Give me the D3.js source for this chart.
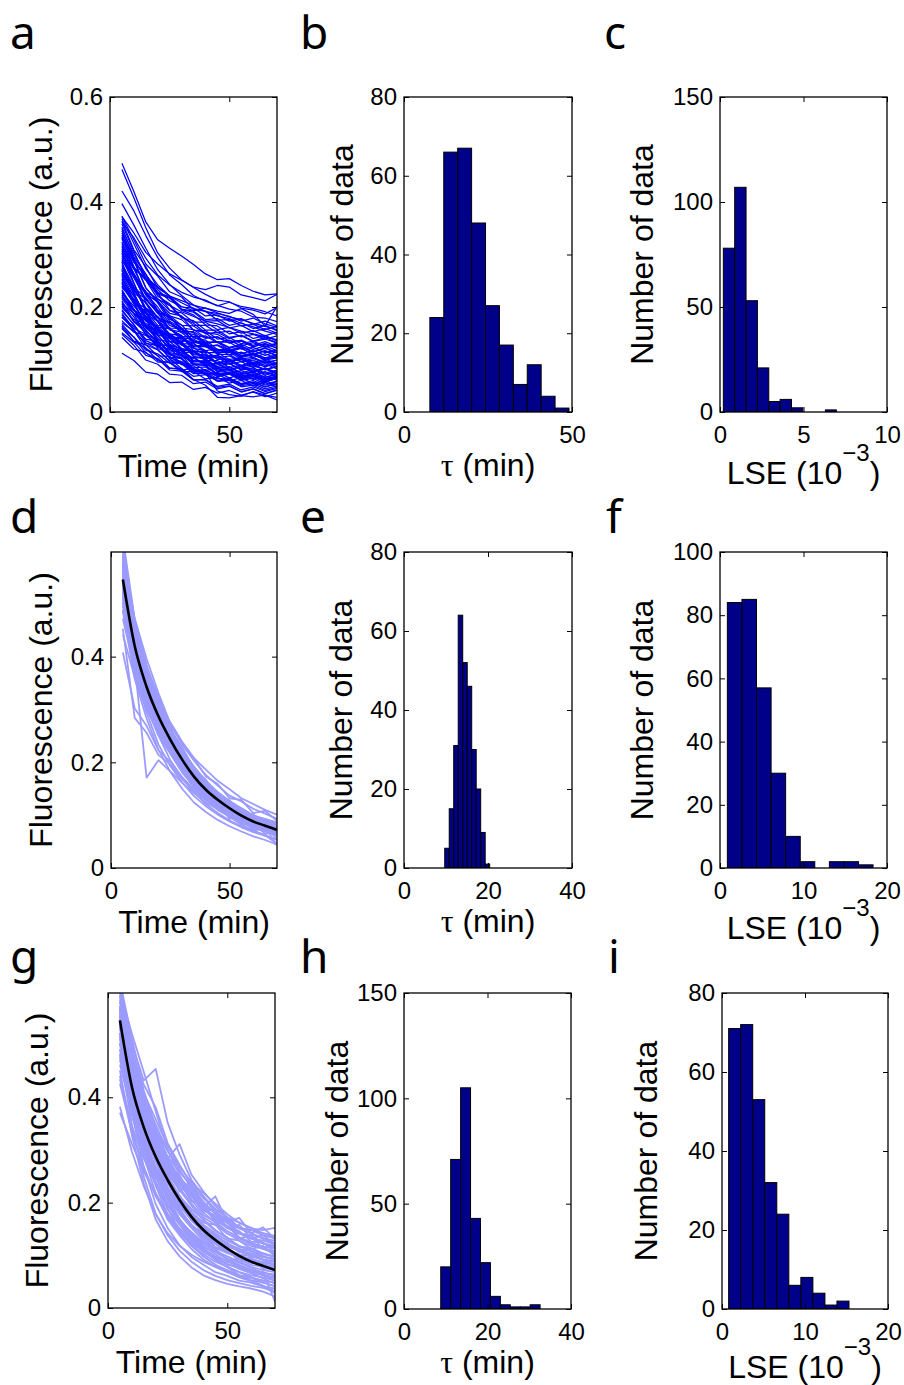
<!DOCTYPE html>
<html>
<head>
<meta charset="utf-8">
<script src="https://cdn.jsdelivr.net/npm/d3@7"></script>
<style>
  body { margin: 0; background: #fff; }
  svg { display: block; }
  text { font-family: "Liberation Sans", Arial, sans-serif; fill: #000; }
  .letter { font-family: "Noto Sans", sans-serif; font-size: 46px; }
  .tick text { font-size: 24px; font-family: "Liberation Sans", Arial, sans-serif; }
  .tick line { stroke: #000; stroke-width: 1; }
  .lab { font-size: 32px; }
</style>
</head>
<body>
<svg id="fig" width="904" height="1385"></svg>
<script>
/* ── Data ───────────────────────────────────────────────────────── */

// sampling times of every trace (min)
const timeMin = [5, 10, 15, 20, 25, 30, 35, 40, 45, 50, 55, 60, 65, 70];

// panel a: raw traces, fluorescence in units of 0.01 a.u.
const tracesA = [
  [35.2, 29.6, 26.3, 22.1, 20.6, 18.0, 16.9, 15.1, 14.8, 13.5, 13.6, 12.5, 12.9, 12.2],
  [33.7, 28.8, 23.6, 21.2, 17.7, 16.6, 14.1, 13.7, 11.9, 11.9, 10.7, 10.9, 9.9, 10.3],
  [32.4, 27.6, 25.1, 21.5, 20.3, 17.9, 17.4, 15.6, 15.6, 14.2, 14.6, 13.4, 13.9, 13.1],
  [31.1, 26.3, 21.4, 18.9, 15.7, 14.6, 12.1, 11.7, 10.0, 10.1, 8.8, 9.1, 8.1, 8.6],
  [30.6, 25.7, 23.0, 19.4, 18.1, 15.7, 15.1, 13.3, 13.3, 11.8, 12.2, 11.0, 11.6, 10.7],
  [29.3, 24.5, 19.7, 17.2, 14.1, 13.0, 10.6, 10.2, 8.5, 8.6, 7.3, 7.6, 6.6, 7.1],
  [28.8, 25.8, 22.4, 21.1, 18.8, 18.3, 16.5, 16.5, 15.1, 15.4, 14.3, 14.8, 13.9, 14.5],
  [27.9, 23.2, 20.7, 17.2, 16.0, 13.7, 13.1, 11.3, 11.3, 10.0, 10.4, 9.2, 9.8, 8.9],
  [27.2, 22.6, 18.0, 15.6, 12.6, 11.6, 9.2, 8.8, 7.1, 7.3, 6.0, 6.4, 5.3, 5.9],
  [26.5, 22.7, 20.9, 17.9, 17.1, 15.1, 14.8, 13.2, 13.4, 12.2, 12.6, 11.5, 12.2, 11.3],
  [25.8, 21.3, 18.9, 15.4, 14.4, 12.1, 11.5, 9.8, 9.8, 8.5, 8.9, 7.7, 8.3, 7.4],
  [25.1, 22.1, 18.7, 17.3, 14.9, 14.5, 12.6, 12.6, 11.2, 11.6, 10.4, 10.9, 10.0, 10.6],
  [24.4, 20.6, 16.5, 14.6, 11.9, 11.2, 9.0, 8.9, 7.3, 7.5, 6.3, 6.8, 5.8, 6.4],
  [23.7, 21.5, 18.8, 18.0, 16.0, 15.9, 14.3, 14.5, 13.2, 13.7, 12.6, 13.2, 12.3, 13.0],
  [23.0, 19.3, 17.6, 14.7, 14.0, 12.0, 11.7, 10.2, 10.4, 9.1, 9.6, 8.5, 9.2, 8.2],
  [22.3, 18.7, 14.7, 12.9, 10.3, 9.6, 7.5, 7.4, 5.9, 6.1, 5.0, 5.4, 4.4, 5.0],
  [21.6, 18.7, 17.5, 15.1, 14.8, 13.0, 13.0, 11.7, 12.0, 10.9, 11.4, 10.4, 11.1, 10.2],
  [20.9, 18.1, 14.8, 13.6, 11.3, 10.9, 9.1, 9.2, 7.8, 8.2, 7.1, 7.6, 6.6, 7.3],
  [20.2, 17.3, 16.2, 13.8, 13.4, 11.7, 11.7, 10.3, 10.7, 9.5, 10.1, 9.1, 9.8, 8.9],
  [19.5, 16.6, 13.2, 11.9, 9.6, 9.2, 7.3, 7.4, 6.0, 6.3, 5.2, 5.7, 4.8, 5.4],
  [18.8, 15.9, 14.8, 12.4, 12.0, 10.3, 10.3, 8.9, 9.3, 8.1, 8.7, 7.7, 8.4, 7.5],
  [18.1, 15.7, 12.8, 11.8, 9.8, 9.6, 7.9, 8.0, 6.7, 7.2, 6.1, 6.7, 5.7, 6.4],
  [17.4, 15.2, 14.6, 12.7, 12.7, 11.2, 11.5, 10.3, 10.8, 9.7, 10.3, 9.4, 10.1, 9.2],
  [16.7, 14.2, 11.2, 10.2, 8.0, 7.8, 6.1, 6.2, 4.9, 5.3, 4.2, 4.8, 3.9, 4.5],
  [15.9, 13.5, 12.8, 10.7, 10.6, 9.0, 9.2, 7.9, 8.4, 7.3, 7.9, 6.9, 7.7, 6.8],
  [15.1, 13.3, 10.8, 10.1, 8.3, 8.3, 6.8, 7.1, 5.9, 6.4, 5.4, 6.0, 5.1, 5.8],
  [14.2, 12.0, 11.4, 9.5, 9.5, 8.0, 8.3, 7.1, 7.6, 6.5, 7.1, 6.2, 6.9, 6.0],
  [34.5, 29.0, 23.7, 20.8, 17.3, 16.0, 13.4, 12.8, 11.0, 11.0, 9.6, 9.9, 8.8, 9.4],
  [32.9, 28.5, 26.2, 22.8, 21.8, 19.5, 19.0, 17.3, 17.4, 16.0, 16.5, 15.3, 15.9, 15.0],
  [31.7, 26.2, 20.9, 18.0, 14.5, 13.2, 10.6, 10.0, 8.2, 8.2, 6.8, 7.1, 6.0, 6.6],
  [30.0, 26.4, 22.6, 20.9, 18.3, 17.6, 15.6, 15.5, 13.9, 14.2, 13.0, 13.5, 12.5, 13.1],
  [28.3, 23.9, 19.5, 17.3, 14.3, 13.4, 11.1, 10.8, 9.1, 9.3, 8.0, 8.4, 7.4, 8.0],
  [26.9, 23.5, 19.8, 18.2, 15.7, 15.2, 13.2, 13.1, 11.6, 11.9, 10.8, 11.2, 10.3, 10.9],
  [25.4, 21.0, 16.4, 14.1, 11.1, 10.2, 7.8, 7.5, 5.9, 6.0, 4.8, 5.1, 4.1, 4.7],
  [24.0, 20.7, 19.2, 16.5, 16.0, 14.1, 13.9, 12.5, 12.7, 11.5, 12.1, 11.0, 11.7, 10.8],
  [22.7, 19.6, 16.0, 14.6, 12.2, 11.7, 9.7, 9.7, 8.3, 8.6, 7.5, 8.0, 7.0, 7.6],
  [21.2, 17.2, 15.2, 12.1, 11.3, 9.2, 8.8, 7.2, 7.3, 6.0, 6.5, 5.4, 6.0, 5.1],
  [19.9, 17.6, 16.9, 14.9, 14.9, 13.4, 13.6, 12.4, 12.8, 11.8, 12.4, 11.4, 12.1, 11.2],
  [18.5, 15.5, 12.1, 10.7, 8.4, 8.0, 6.1, 6.1, 4.7, 5.0, 3.9, 4.4, 3.5, 4.1],
  [17.0, 15.4, 13.1, 12.6, 10.9, 10.9, 9.5, 9.8, 8.7, 9.2, 8.2, 8.8, 8.0, 8.7],
  [36.4, 30.9, 27.7, 23.6, 22.1, 19.4, 18.5, 16.6, 16.4, 14.9, 15.3, 14.0, 14.6, 13.5],
  [33.2, 27.7, 22.3, 19.3, 15.8, 14.4, 11.7, 11.2, 9.3, 9.3, 8.0, 8.2, 7.2, 7.7],
  [29.7, 25.6, 21.4, 19.4, 16.5, 15.7, 13.5, 13.3, 11.6, 11.8, 10.6, 11.0, 10.0, 10.6],
  [27.5, 23.7, 21.8, 18.8, 18.1, 16.0, 15.7, 14.2, 14.3, 13.1, 13.5, 12.4, 13.1, 12.1],
  [26.1, 22.0, 17.7, 15.7, 12.8, 12.0, 9.8, 9.6, 8.0, 8.1, 6.9, 7.3, 6.3, 6.9],
  [24.8, 20.8, 18.8, 15.7, 14.8, 12.7, 12.3, 10.7, 10.8, 9.6, 10.0, 8.9, 9.5, 8.6],
  [23.3, 19.5, 15.4, 13.6, 10.9, 10.1, 8.0, 7.8, 6.3, 6.5, 5.3, 5.7, 4.8, 5.4],
  [22.0, 19.5, 16.5, 15.5, 13.4, 13.2, 11.5, 11.6, 10.3, 10.7, 9.6, 10.2, 9.3, 9.9],
  [20.5, 17.2, 15.7, 13.0, 12.5, 10.6, 10.4, 9.0, 9.2, 8.0, 8.6, 7.5, 8.2, 7.2],
  [19.2, 16.7, 13.6, 12.6, 10.4, 10.2, 8.4, 8.6, 7.2, 7.6, 6.6, 7.1, 6.2, 6.8],
  [16.4, 13.4, 12.2, 9.8, 9.4, 7.7, 7.7, 6.3, 6.6, 5.5, 6.0, 5.0, 5.7, 4.8],
  [14.8, 12.7, 9.9, 9.1, 7.2, 7.0, 5.4, 5.7, 4.4, 4.9, 3.8, 4.4, 3.5, 4.2],
  [11.2, 9.8, 7.6, 7.2, 5.6, 5.7, 4.3, 4.7, 3.6, 4.1, 3.2, 3.8, 2.9, 3.6],
  [30.3, 24.6, 19.0, 15.9, 12.3, 10.9, 8.1, 7.5, 4.0, 3.3, 3.0, 3.9, 3.2, 2.8],
  [28.6, 22.4, 17.8, 13.1, 10.2, 8.3, 6.2, 5.1, 2.8, 2.7, 3.1, 2.9, 3.2, 2.3],
  [35.8, 30.6, 25.5, 22.7, 19.4, 18.2, 15.6, 15.1, 13.3, 13.3, 12.0, 12.3, 11.3, 11.8],
  [31.4, 27.5, 25.5, 22.5, 21.7, 19.6, 19.2, 17.6, 17.8, 16.5, 17.0, 15.9, 16.5, 15.5],
  [29.0, 26.1, 22.8, 21.6, 19.3, 18.9, 17.1, 17.1, 15.7, 16.1, 15.0, 15.5, 14.5, 15.2],
  [26.3, 23.0, 21.6, 18.9, 18.4, 16.5, 16.4, 14.9, 15.2, 14.0, 14.6, 13.5, 14.2, 13.2],
  [23.9, 21.0, 19.8, 17.4, 17.1, 15.3, 15.3, 14.0, 14.3, 13.2, 13.7, 12.7, 13.4, 12.5],
  [21.9, 19.3, 18.3, 16.1, 15.9, 14.3, 14.4, 13.0, 13.4, 12.3, 12.9, 11.9, 12.6, 11.7],
  [20.6, 18.8, 16.3, 15.8, 14.0, 14.0, 12.5, 12.8, 11.6, 12.1, 11.1, 11.7, 10.8, 11.5],
  [32.1, 27.3, 22.5, 20.0, 16.9, 15.8, 13.4, 13.0, 11.3, 11.4, 10.1, 10.4, 9.4, 9.9],
  [37.3, 32.8, 28.2, 25.9, 22.9, 21.9, 19.5, 19.2, 17.5, 17.6, 16.4, 16.7, 15.7, 16.3],
  [30.8, 27.2, 25.5, 22.7, 22.0, 20.0, 19.8, 18.3, 18.5, 17.3, 17.8, 16.7, 17.3, 16.4],
  [27.0, 22.6, 18.1, 15.9, 12.9, 12.0, 9.7, 9.4, 7.7, 7.9, 6.6, 7.0, 6.0, 6.6],
  [24.6, 21.3, 17.6, 16.0, 13.5, 12.9, 10.9, 10.9, 9.4, 9.7, 8.6, 9.0, 8.1, 8.7],
  [22.6, 20.2, 17.3, 16.3, 14.3, 14.1, 12.4, 12.5, 11.2, 11.7, 10.6, 11.2, 10.2, 10.9],
  [18.0, 16.3, 13.9, 13.4, 11.6, 11.7, 10.2, 10.5, 9.3, 9.9, 8.9, 9.5, 8.6, 9.3],
  [16.1, 14.3, 11.8, 11.1, 9.3, 9.3, 7.8, 8.1, 6.9, 7.4, 6.4, 7.0, 6.1, 6.8],
  [47.4, 42.0, 36.2, 32.8, 31.2, 29.7, 28.1, 26.3, 25.2, 25.4, 24.1, 23.0, 22.3, 22.5],
  [46.2, 40.8, 35.1, 30.3, 27.4, 25.2, 23.7, 22.4, 21.3, 21.0, 19.8, 19.4, 18.7, 19.9],
  [42.1, 38.3, 33.6, 29.4, 26.1, 24.3, 22.2, 21.1, 20.3, 19.6, 19.2, 18.1, 17.9, 17.2],
  [39.7, 35.6, 31.2, 27.1, 24.3, 22.2, 20.4, 19.1, 18.8, 18.2, 17.3, 17.9, 16.8, 16.1],
  [37.2, 34.1, 30.4, 28.2, 26.3, 25.1, 23.8, 23.3, 24.1, 23.8, 22.3, 21.8, 21.2, 22.4],
  [36.1, 33.2, 29.3, 26.1, 24.2, 22.8, 21.9, 21.3, 20.2, 20.9, 20.1, 19.7, 19.1, 18.3],
  [36.8, 32.1, 27.3, 24.2, 22.1, 20.8, 19.7, 19.2, 18.3, 17.8, 16.9, 16.2, 15.4, 14.8],
  [34.8, 30.2, 26.1, 23.3, 21.2, 20.1, 19.3, 19.8, 18.9, 18.1, 17.6, 16.9, 16.3, 15.7],
  [33.4, 28.9, 25.6, 23.8, 22.1, 21.2, 20.3, 19.8, 19.2, 18.8, 19.7, 18.6, 16.4, 20.1],
  [34.1, 29.3, 25.2, 22.2, 20.3, 19.1, 18.2, 17.3, 16.8, 16.1, 15.4, 14.9, 14.3, 13.8]
];

// panel d: simulated traces (0.01 a.u.)
const tracesD = [
  [56.9, 41.2, 35.6, 28.1, 25.4, 19.8, 18.2, 14.1, 13.6, 10.7, 10.5, 8.3, 8.6, 6.8],
  [52.3, 43.1, 33.2, 29.6, 23.5, 21.3, 16.6, 15.5, 12.2, 11.9, 9.3, 9.4, 7.5, 7.7],
  [58.4, 44.6, 36.9, 30.2, 26.1, 21.9, 18.5, 15.9, 13.8, 12.1, 10.6, 9.5, 8.6, 7.8],
  [50.1, 38.7, 31.2, 26.4, 22.3, 18.9, 15.8, 13.6, 11.8, 10.4, 9.1, 8.1, 7.3, 6.6],
  [61.2, 46.8, 38.1, 31.9, 26.2, 22.9, 18.6, 16.7, 13.8, 12.8, 10.5, 10.1, 8.4, 8.3],
  [55.8, 40.3, 34.9, 27.2, 25.1, 19.4, 17.9, 13.9, 13.4, 10.5, 10.4, 8.1, 8.5, 6.3],
  [53.1, 42.6, 33.1, 29.2, 23.2, 21.1, 16.4, 15.3, 12.0, 11.7, 9.1, 9.3, 7.2, 7.6],
  [48.6, 37.2, 30.4, 25.1, 21.6, 18.1, 15.4, 13.0, 11.5, 9.9, 8.8, 7.7, 7.1, 6.2],
  [57.6, 45.3, 36.4, 31.2, 25.9, 22.6, 18.9, 16.4, 14.2, 12.6, 11.0, 9.9, 9.0, 8.2],
  [54.0, 41.7, 33.8, 28.3, 24.0, 20.2, 17.1, 14.6, 12.7, 11.1, 9.7, 8.6, 7.8, 7.0],
  [59.5, 43.9, 37.3, 29.4, 26.8, 20.6, 19.1, 14.8, 14.3, 11.2, 11.1, 8.6, 9.1, 6.9],
  [51.4, 40.8, 32.2, 28.6, 22.8, 20.7, 16.0, 15.1, 11.8, 11.6, 8.9, 9.2, 7.0, 7.5],
  [56.2, 43.4, 35.2, 29.5, 24.9, 21.1, 17.8, 15.2, 13.3, 11.6, 10.2, 9.1, 8.2, 7.4],
  [62.5, 47.1, 38.4, 30.8, 26.4, 21.6, 18.4, 15.4, 13.4, 11.5, 10.1, 9.0, 8.1, 7.3],
  [40.8, 30.2, 26.9, 22.3, 20.1, 17.2, 14.9, 13.1, 11.4, 10.2, 8.9, 8.1, 7.3, 6.5],
  [45.3, 28.4, 25.6, 21.4, 19.6, 16.8, 14.6, 12.8, 11.3, 10.0, 8.8, 7.9, 7.1, 6.4],
  [52.2, 38.4, 17.1, 20.4, 18.3, 16.1, 14.2, 12.4, 11.1, 9.8, 8.7, 7.9, 7.1, 6.3],
  [54.3, 44.2, 36.5, 31.1, 27.6, 23.9, 20.8, 18.6, 16.5, 14.9, 13.2, 12.1, 11.0, 10.1],
  [56.7, 45.6, 38.2, 32.4, 27.1, 23.4, 20.3, 17.6, 15.6, 13.7, 12.6, 11.2, 10.3, 9.3],
  [57.4, 47.2, 39.6, 33.1, 27.4, 23.6, 20.7, 17.3, 15.9, 13.2, 12.9, 10.4, 10.8, 8.9],
  [50.3, 37.1, 29.4, 23.4, 19.3, 16.2, 13.6, 11.7, 10.1, 8.8, 7.7, 6.8, 6.1, 5.3],
  [48.9, 35.8, 28.3, 22.4, 18.2, 15.0, 12.4, 10.6, 9.1, 7.9, 6.9, 6.0, 5.3, 4.4],
  [53.4, 39.2, 30.8, 25.1, 20.4, 17.1, 14.3, 12.1, 10.4, 9.0, 7.9, 7.0, 6.2, 5.4],
  [58.1, 42.7, 33.4, 27.0, 22.3, 18.4, 15.2, 13.0, 11.2, 9.8, 8.6, 7.6, 6.9, 6.1],
  [55.2, 41.4, 34.1, 27.3, 24.2, 19.1, 17.3, 13.2, 12.4, 9.3, 9.8, 7.2, 7.9, 5.4],
  [51.8, 42.1, 34.7, 28.4, 25.2, 21.4, 19.0, 15.4, 14.1, 12.2, 11.3, 9.9, 9.3, 8.6],
  [56.3, 43.6, 34.2, 30.1, 24.1, 22.2, 17.2, 16.1, 12.3, 12.1, 9.2, 9.3, 7.1, 7.2],
  [53.7, 40.4, 32.1, 26.2, 21.8, 18.2, 15.6, 13.1, 11.0, 9.7, 8.2, 7.1, 6.2, 4.6],
  [47.2, 37.3, 30.2, 25.3, 21.9, 18.8, 16.1, 14.0, 12.2, 10.9, 9.8, 8.9, 8.1, 7.4],
  [60.3, 43.3, 35.4, 28.2, 24.4, 19.7, 17.4, 14.7, 12.8, 11.0, 9.9, 8.7, 8.1, 7.6],
  [55.4, 44.8, 36.8, 30.9, 25.3, 22.1, 18.1, 16.2, 13.2, 12.4, 10.1, 9.8, 8.2, 8.1],
  [52.8, 40.6, 31.4, 27.9, 22.1, 19.8, 15.7, 14.3, 11.2, 10.8, 8.3, 8.7, 6.4, 7.0],
  [50.9, 39.8, 33.6, 27.7, 24.6, 20.1, 18.6, 14.4, 13.9, 10.3, 10.8, 8.2, 8.9, 6.1],
  [57.1, 42.2, 35.8, 28.0, 25.3, 19.2, 17.7, 13.4, 12.9, 9.4, 9.9, 7.0, 7.7, 4.3],
  [44.2, 36.1, 30.1, 25.7, 22.9, 19.9, 17.1, 14.9, 13.1, 11.3, 10.2, 9.1, 8.3, 7.9],
  [54.8, 43.0, 34.5, 28.9, 24.2, 20.6, 17.4, 14.9, 13.0, 11.4, 10.0, 8.9, 8.1, 7.3],
  [59.0, 45.8, 37.0, 31.0, 26.0, 22.0, 18.7, 15.9, 13.9, 12.2, 10.7, 9.6, 8.7, 7.9],
  [49.6, 38.2, 31.5, 26.1, 22.5, 18.6, 16.2, 13.4, 12.1, 10.1, 9.4, 7.8, 7.6, 6.2],
  [53.6, 41.9, 34.9, 28.1, 24.8, 20.0, 17.9, 14.3, 13.5, 10.8, 10.4, 8.4, 8.4, 6.6],
  [56.0, 44.0, 35.5, 30.4, 24.6, 21.8, 17.0, 15.8, 12.5, 12.0, 9.5, 9.6, 7.4, 7.9],
  [52.0, 41.0, 33.5, 27.5, 23.7, 19.6, 16.8, 14.4, 12.6, 10.9, 9.6, 8.5, 7.7, 6.9],
  [58.8, 44.4, 36.2, 29.8, 25.7, 21.2, 18.0, 15.1, 13.2, 11.4, 10.3, 9.0, 8.3, 7.5],
  [51.0, 39.4, 32.6, 27.0, 23.0, 19.3, 16.6, 14.2, 12.4, 10.8, 9.6, 8.5, 7.7, 7.1],
  [55.9, 42.9, 35.0, 29.0, 24.7, 20.9, 17.6, 15.0, 13.1, 11.5, 10.1, 9.0, 8.2, 7.4],
  [57.8, 46.0, 37.5, 31.4, 26.5, 22.4, 19.2, 16.5, 14.4, 12.7, 11.3, 10.0, 9.1, 8.4]
];

// panel g: experimental traces rescaled (0.01 a.u.)
const tracesG = [
  [60.2, 52.1, 44.8, 37.3, 30.1, 25.2, 21.3, 18.1, 16.2, 14.1, 13.2, 12.1, 11.3, 10.2],
  [58.1, 50.3, 43.2, 45.4, 35.2, 29.1, 24.3, 21.2, 18.1, 16.3, 15.1, 14.2, 13.1, 12.3],
  [56.3, 48.2, 42.4, 38.1, 31.3, 27.2, 23.4, 19.3, 18.2, 16.1, 14.3, 13.2, 12.4, 11.2],
  [62.1, 51.2, 41.3, 34.2, 28.4, 31.1, 25.3, 22.1, 19.4, 17.2, 15.3, 14.1, 13.3, 12.1],
  [55.2, 44.3, 36.1, 30.2, 26.3, 22.1, 24.2, 19.1, 21.2, 16.3, 17.1, 14.2, 15.3, 13.1],
  [53.3, 41.8, 33.7, 28.3, 24.1, 21.2, 18.3, 15.8, 14.2, 12.8, 11.7, 11.2, 10.3, 9.8],
  [50.1, 38.8, 30.7, 25.2, 21.3, 18.1, 15.7, 13.8, 12.2, 10.9, 10.1, 9.2, 8.7, 8.1],
  [57.2, 42.7, 33.1, 25.8, 21.2, 16.8, 14.1, 11.8, 10.2, 8.8, 8.1, 7.2, 6.3, 5.2],
  [54.1, 39.6, 29.8, 23.2, 17.8, 14.7, 11.8, 9.8, 8.2, 6.8, 6.2, 5.3, 4.8, 4.1],
  [52.2, 37.1, 26.8, 19.7, 15.2, 11.9, 9.7, 8.2, 6.8, 6.1, 5.2, 4.8, 4.1, 3.7],
  [48.3, 34.8, 24.9, 17.9, 13.8, 10.9, 8.8, 7.2, 6.1, 5.3, 4.7, 4.2, 3.8, 3.1],
  [45.1, 32.8, 23.7, 16.8, 12.7, 9.8, 7.7, 6.2, 5.3, 4.6, 4.1, 3.7, 3.1, 2.2],
  [38.2, 29.7, 23.1, 17.8, 14.2, 11.8, 10.1, 8.8, 7.8, 6.9, 6.2, 5.7, 5.2, 4.8],
  [37.1, 31.2, 25.8, 21.8, 17.9, 15.1, 12.8, 11.2, 9.8, 8.9, 7.9, 7.2, 6.8, 6.1],
  [59.3, 47.2, 38.3, 31.8, 27.2, 23.8, 21.2, 18.8, 16.8, 15.2, 14.1, 13.2, 12.8, 12.1],
  [61.2, 49.8, 40.2, 33.3, 28.1, 24.8, 22.1, 19.8, 18.2, 16.8, 15.2, 14.8, 14.2, 13.7],
  [56.1, 46.3, 38.8, 33.2, 28.8, 25.8, 23.2, 20.8, 18.8, 17.2, 16.2, 15.1, 14.8, 15.2],
  [54.2, 44.8, 37.2, 31.8, 27.2, 23.3, 21.8, 18.2, 18.8, 15.2, 15.8, 13.2, 13.8, 12.1],
  [51.2, 42.8, 36.8, 31.2, 26.2, 23.8, 20.2, 19.8, 16.2, 16.8, 13.2, 13.8, 11.2, 11.8],
  [49.2, 39.8, 33.2, 27.8, 23.8, 20.2, 17.8, 15.2, 13.8, 12.2, 11.2, 10.2, 9.8, 9.1],
  [57.3, 44.7, 35.2, 28.7, 23.8, 19.8, 17.2, 14.8, 13.2, 11.8, 10.8, 10.1, 9.2, 8.8],
  [55.1, 41.8, 31.7, 24.8, 19.8, 15.9, 13.2, 11.1, 9.7, 8.2, 7.8, 6.8, 6.2, 5.8],
  [53.2, 43.8, 35.8, 29.7, 24.8, 21.2, 17.8, 15.2, 13.8, 12.1, 11.2, 10.2, 9.1, 8.2],
  [50.3, 41.2, 33.8, 27.8, 22.8, 19.2, 16.8, 14.8, 12.8, 11.2, 10.2, 9.8, 9.2, 8.8],
  [60.1, 47.8, 38.8, 30.8, 25.2, 20.8, 17.2, 14.8, 12.2, 10.8, 9.2, 8.2, 7.8, 7.1],
  [46.2, 37.2, 30.8, 25.8, 21.8, 18.2, 15.8, 13.8, 12.2, 10.8, 9.8, 8.8, 8.2, 7.8],
  [52.1, 38.2, 28.8, 21.8, 16.8, 13.8, 11.2, 9.2, 7.8, 6.8, 5.8, 5.1, 4.2, 3.2],
  [54.3, 40.8, 30.8, 23.8, 18.8, 14.8, 12.2, 9.8, 8.2, 7.2, 6.2, 5.2, 4.2, 2.8],
  [44.1, 33.8, 26.8, 21.2, 17.2, 14.2, 11.8, 10.2, 8.8, 7.8, 6.8, 6.2, 5.8, 5.2],
  [58.2, 45.8, 36.2, 29.2, 23.8, 20.2, 17.8, 15.2, 13.8, 12.2, 11.2, 10.8, 10.2, 9.8],
  [56.2, 45.2, 38.2, 33.8, 29.8, 26.8, 23.8, 21.8, 19.8, 17.8, 16.2, 15.2, 14.2, 13.2],
  [53.1, 46.2, 39.8, 34.8, 29.8, 26.2, 22.8, 20.2, 17.8, 16.2, 15.2, 14.2, 13.2, 12.8],
  [50.2, 42.8, 36.8, 31.8, 27.8, 24.2, 21.8, 19.2, 17.2, 15.2, 14.2, 13.2, 12.2, 11.8],
  [47.1, 38.8, 31.8, 26.8, 22.8, 19.8, 17.2, 14.8, 13.2, 11.8, 10.8, 9.8, 9.2, 8.8],
  [55.3, 43.8, 34.8, 27.8, 22.8, 18.8, 15.8, 13.2, 11.2, 9.2, 8.2, 7.2, 6.2, 5.8],
  [51.1, 40.8, 32.8, 25.8, 20.8, 16.8, 13.8, 11.2, 9.2, 7.8, 6.2, 5.8, 4.8, 4.2],
  [49.1, 37.8, 29.8, 23.8, 18.8, 15.8, 12.8, 10.8, 9.2, 7.8, 6.8, 5.8, 5.2, 4.8],
  [61.1, 48.8, 38.8, 31.8, 26.8, 22.8, 19.8, 17.2, 15.8, 14.2, 12.8, 11.8, 11.2, 10.8],
  [57.1, 47.8, 40.8, 35.8, 30.8, 26.8, 23.8, 21.2, 18.8, 17.2, 15.2, 14.8, 13.8, 13.2],
  [52.3, 39.8, 31.8, 25.8, 21.2, 17.8, 15.2, 12.8, 10.8, 9.2, 7.8, 7.2, 6.8, 1.2],
  [56.4, 44.8, 36.2, 29.8, 25.2, 21.2, 18.8, 16.8, 14.8, 13.2, 11.8, 10.8, 9.8, 9.2],
  [48.2, 37.8, 29.8, 23.8, 19.8, 16.8, 14.2, 12.2, 10.8, 9.8, 8.8, 7.8, 7.2, 6.8],
  [54.2, 43.2, 35.8, 30.2, 25.8, 22.8, 21.8, 18.8, 17.2, 16.8, 14.2, 13.8, 12.2, 11.8],
  [50.4, 41.8, 34.8, 28.8, 24.2, 20.8, 18.2, 16.2, 15.8, 13.2, 12.8, 11.2, 11.8, 9.8],
  [59.4, 46.6, 37.4, 29.6, 24.4, 19.6, 16.6, 14.4, 12.4, 10.6, 9.6, 8.6, 8.4, 7.6],
  [57.4, 46.4, 37.6, 31.4, 25.6, 22.4, 19.4, 16.6, 14.6, 13.4, 11.6, 11.4, 10.4, 9.6],
  [55.6, 44.6, 36.6, 30.4, 24.6, 21.4, 17.6, 15.6, 13.6, 12.4, 10.6, 10.4, 9.6, 9.4],
  [53.6, 42.6, 34.6, 28.6, 23.6, 20.4, 16.6, 14.6, 12.6, 11.4, 9.6, 9.4, 8.6, 8.4],
  [51.6, 40.6, 32.6, 26.6, 22.4, 18.6, 15.6, 13.6, 11.6, 10.6, 9.4, 8.6, 8.4, 7.6],
  [47.6, 36.6, 28.6, 23.6, 19.6, 16.6, 13.6, 11.6, 10.6, 9.4, 8.6, 7.6, 6.6, 6.4],
  [60.4, 48.6, 40.4, 32.6, 27.6, 23.6, 20.6, 17.6, 16.4, 14.6, 13.4, 12.4, 11.6, 11.4],
  [58.6, 47.4, 39.4, 33.6, 28.6, 24.6, 22.6, 18.6, 17.6, 15.4, 14.6, 12.6, 12.4, 10.6],
  [55.4, 45.6, 37.4, 32.6, 27.4, 24.6, 20.4, 19.6, 16.4, 15.6, 13.4, 12.4, 11.4, 10.4],
  [53.4, 40.4, 31.6, 26.4, 21.6, 18.4, 15.4, 14.4, 11.4, 11.6, 8.6, 9.6, 7.4, 7.6],
  [42.6, 33.4, 26.4, 21.4, 17.6, 14.6, 12.4, 10.6, 9.4, 8.4, 7.6, 6.6, 6.4, 5.6],
  [43.4, 34.6, 28.4, 23.4, 19.4, 16.4, 14.4, 12.4, 11.4, 10.4, 9.6, 8.6, 8.4, 7.4],
  [56.8, 42.4, 32.4, 25.4, 20.6, 16.4, 13.4, 11.4, 9.6, 8.4, 7.4, 6.6, 5.6, 4.6]
];

// black fitted decay in panels d and g (0.01 a.u.)
const fitCurve = [54.6, 42.0, 34.3, 28.7, 24.3, 20.5, 17.3, 14.8, 12.9, 11.3, 9.9, 8.8, 8.0, 7.2];

// histograms: bin edges and counts
const tauEdgesB = [7.7, 11.84, 15.98, 20.12, 24.26, 28.4, 32.54, 36.68, 40.82, 44.96, 49.1];
const tauCountsB = [24, 66, 67, 48, 27, 17, 7, 12, 4, 1];
const lseEdgesC = [0.2, 0.88, 1.56, 2.24, 2.92, 3.6, 4.28, 4.96, 5.64, 6.31, 6.97];
const lseCountsC = [78, 107, 53, 21, 5, 6, 2, 0, 0, 1];
const tauEdgesE = [9.7, 10.77, 11.84, 12.91, 13.98, 15.05, 16.12, 17.19, 18.26, 19.33, 20.4];
const tauCountsE = [5, 15, 31, 64, 52, 46, 30, 20, 9, 1];
const lseEdgesF = [0.88, 2.63, 4.37, 6.12, 7.86, 9.61, 11.35, 13.1, 14.84, 16.59, 18.33];
const lseCountsF = [84, 85, 57, 30, 10, 2, 0, 2, 2, 1];
const tauEdgesH = [8.8, 11.18, 13.56, 15.94, 18.32, 20.7, 23.08, 25.46, 27.84, 30.22, 32.6];
const tauCountsH = [20, 71, 105, 43, 22, 6, 2, 1, 1, 2];
const lseEdgesI = [0.8, 2.25, 3.7, 5.15, 6.6, 8.05, 9.5, 10.95, 12.4, 13.85, 15.3];
const lseCountsI = [71, 72, 53, 32, 24, 6, 8, 4, 1, 2];

// tick values
const timeTicks = [0, 50];
const fluorTicksA = [0, 0.2, 0.4, 0.6];
const fluorTicksSim = [0, 0.2, 0.4];
const tauTicksB = [0, 50];
const tauTicks40 = [0, 20, 40];
const lseTicks10 = [0, 5, 10];
const lseTicks20 = [0, 10, 20];
const countTicks80 = [0, 20, 40, 60, 80];
const countTicks100 = [0, 20, 40, 60, 80, 100];
const countTicks150 = [0, 50, 100, 150];

/* ── Layout ─────────────────────────────────────────────────────── */

const svg = d3.select('#fig');
const BLUE = '#0000ff', LILAC = '#9b9bff', BAR = '#000088';

// box = [left, top, right, bottom]; xlOff = baseline of the x label below the box
const panels = [
  { letter: 'a', lx: 10, ly: 49, box: [110, 97, 277, 412], kind: 'lines', traces: tracesA, color: BLUE, lw: 1.25,
    xDom: [0, 70], xTicks: timeTicks, yDom: [0, 0.6], yTicks: fluorTicksA, xlab: 'time', ylab: 'Fluorescence (a.u.)', yOff: 58, xlOff: 65 },
  { letter: 'b', lx: 300, ly: 49, box: [404, 97, 572, 412], kind: 'hist', edges: tauEdgesB, counts: tauCountsB,
    xDom: [0, 50], xTicks: tauTicksB, yDom: [0, 80], yTicks: countTicks80, xlab: 'tau', ylab: 'Number of data', yOff: 51, xlOff: 64 },
  { letter: 'c', lx: 604, ly: 49, box: [720, 97, 887, 412], kind: 'hist', edges: lseEdgesC, counts: lseCountsC,
    xDom: [0, 10], xTicks: lseTicks10, yDom: [0, 150], yTicks: countTicks150, xlab: 'lse', ylab: 'Number of data', yOff: 67, xlOff: 72 },
  { letter: 'd', lx: 10, ly: 533, box: [111, 552, 277, 868], kind: 'lines', traces: tracesD, color: LILAC, lw: 1.8, fit: fitCurve,
    xDom: [0, 70], xTicks: timeTicks, yDom: [0, 0.598], yTicks: fluorTicksSim, xlab: 'time', ylab: 'Fluorescence (a.u.)', yOff: 59, xlOff: 65 },
  { letter: 'e', lx: 300, ly: 533, box: [404, 552, 572, 868], kind: 'hist', edges: tauEdgesE, counts: tauCountsE,
    xDom: [0, 40], xTicks: tauTicks40, yDom: [0, 80], yTicks: countTicks80, xlab: 'tau', ylab: 'Number of data', yOff: 52, xlOff: 64 },
  { letter: 'f', lx: 606, ly: 533, box: [720, 552, 887, 868], kind: 'hist', edges: lseEdgesF, counts: lseCountsF,
    xDom: [0, 20], xTicks: lseTicks20, yDom: [0, 100], yTicks: countTicks100, xlab: 'lse', ylab: 'Number of data', yOff: 67, xlOff: 71 },
  { letter: 'g', lx: 10, ly: 973, box: [108, 993, 275, 1308], kind: 'lines', traces: tracesG, color: LILAC, lw: 1.8, fit: fitCurve,
    xDom: [0, 70], xTicks: timeTicks, yDom: [0, 0.598], yTicks: fluorTicksSim, xlab: 'time', ylab: 'Fluorescence (a.u.)', yOff: 60, xlOff: 65 },
  { letter: 'h', lx: 300, ly: 973, box: [404, 993, 571, 1309], kind: 'hist', edges: tauEdgesH, counts: tauCountsH,
    xDom: [0, 40], xTicks: tauTicks40, yDom: [0, 150], yTicks: countTicks150, xlab: 'tau', ylab: 'Number of data', yOff: 56, xlOff: 64 },
  { letter: 'i', lx: 608, ly: 973, box: [722, 993, 888, 1309], kind: 'hist', edges: lseEdgesI, counts: lseCountsI,
    xDom: [0, 20], xTicks: lseTicks20, yDom: [0, 80], yTicks: countTicks80, xlab: 'lse', ylab: 'Number of data', yOff: 65, xlOff: 69 }
];

/* ── Drawing ────────────────────────────────────────────────────── */

panels.forEach(function (p, idx) {
  const [x0, y0, x1, y1] = p.box;
  const w = x1 - x0, h = y1 - y0;
  const x = d3.scaleLinear().domain(p.xDom).range([0, w]);
  const y = d3.scaleLinear().domain(p.yDom).range([h, 0]);

  svg.append('text').attr('class', 'letter').attr('x', p.lx).attr('y', p.ly).text(p.letter);

  const g = svg.append('g').attr('transform', 'translate(' + x0 + ',' + y0 + ')');

  const clipId = 'clip' + idx;
  g.append('clipPath').attr('id', clipId)
    .append('rect').attr('width', w).attr('height', h);
  const plot = g.append('g').attr('clip-path', 'url(#' + clipId + ')');

  if (p.kind === 'lines') {
    const line = d3.line()
      .x(function (d, i) { return x(timeMin[i]); })
      .y(function (d) { return y(d / 100); });
    plot.selectAll('path.trace').data(p.traces).enter().append('path')
      .attr('class', 'trace')
      .attr('fill', 'none')
      .attr('stroke', p.color)
      .attr('stroke-width', p.lw)
      .attr('stroke-linejoin', 'round')
      .attr('d', line);
    if (p.fit) {
      const fitLine = d3.line()
        .curve(d3.curveMonotoneX)
        .x(function (d, i) { return x(timeMin[i]); })
        .y(function (d) { return y(d / 100); });
      plot.append('path').datum(p.fit)
        .attr('fill', 'none').attr('stroke', '#000').attr('stroke-width', 2.6)
        .attr('d', fitLine);
    }
  } else {
    const bins = p.counts.map(function (c, i) { return { lo: p.edges[i], hi: p.edges[i + 1], n: c }; });
    plot.selectAll('rect.bar').data(bins).enter().append('rect')
      .attr('class', 'bar')
      .attr('x', function (d) { return x(d.lo); })
      .attr('width', function (d) { return x(d.hi) - x(d.lo); })
      .attr('y', function (d) { return y(d.n); })
      .attr('height', function (d) { return y(0) - y(d.n); })
      .attr('fill', BAR)
      .attr('stroke', '#000')
      .attr('stroke-width', 1);
  }

  // inward ticks on all four sides, labels only left and bottom
  const tk = 5;
  g.append('g').call(d3.axisLeft(y).tickValues(p.yTicks).tickSizeInner(-tk).tickSizeOuter(0).tickPadding(7)
      .tickFormat(function (d) { return d3.format('~g')(d); }))
    .call(function (s) { s.select('.domain').remove(); });
  g.append('g').attr('transform', 'translate(' + w + ',0)')
    .call(d3.axisRight(y).tickValues(p.yTicks).tickSizeInner(-tk).tickSizeOuter(0).tickFormat(''))
    .call(function (s) { s.select('.domain').remove(); });
  g.append('g').attr('transform', 'translate(0,' + h + ')')
    .call(d3.axisBottom(x).tickValues(p.xTicks).tickSizeInner(-tk).tickSizeOuter(0).tickPadding(14)
      .tickFormat(d3.format('~g')))
    .call(function (s) { s.select('.domain').remove(); });
  g.append('g')
    .call(d3.axisTop(x).tickValues(p.xTicks).tickSizeInner(-tk).tickSizeOuter(0).tickFormat(''))
    .call(function (s) { s.select('.domain').remove(); });
  g.selectAll('.tick text').attr('fill', '#000');

  g.append('rect').attr('width', w).attr('height', h)
    .attr('fill', 'none').attr('stroke', '#000').attr('stroke-width', 1.3);

  // y label
  g.append('text').attr('class', 'lab')
    .attr('transform', 'translate(' + (-p.yOff) + ',' + (h / 2) + ') rotate(-90)')
    .attr('text-anchor', 'middle')
    .text(p.ylab);

  // x label
  const xl = g.append('text').attr('class', 'lab').attr('text-anchor', 'middle')
    .attr('x', w / 2).attr('y', h + p.xlOff);
  if (p.xlab === 'time') {
    xl.text('Time (min)');
  } else if (p.xlab === 'tau') {
    xl.append('tspan').style('font-family', '"Liberation Serif", serif').text('τ');
    xl.append('tspan').text(' (min)');
  } else {
    xl.append('tspan').text('LSE (10');
    xl.append('tspan').attr('dy', -23).style('font-size', '24px').text('−3');
    xl.append('tspan').attr('dy', 23).text(')');
  }
});
</script>
</body>
</html>
